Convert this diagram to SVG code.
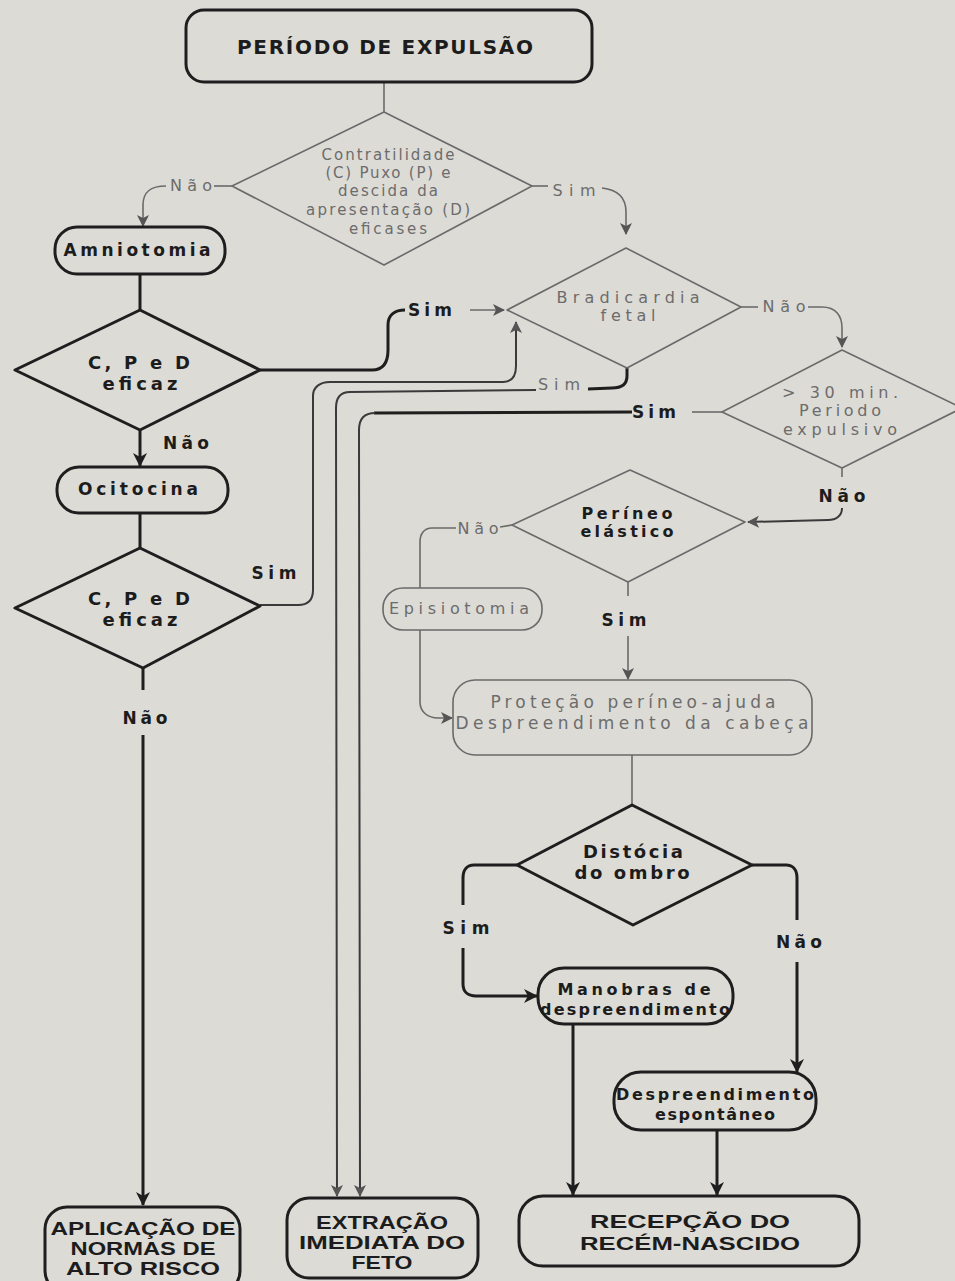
<svg xmlns="http://www.w3.org/2000/svg" width="955" height="1281" viewBox="0 0 955 1281">
<style>
.thick{fill:none;stroke:#1e1e1e;stroke-width:3;stroke-linejoin:round}
.thin{fill:none;stroke:#6a6a6a;stroke-width:1.6;stroke-linejoin:round}
.mid{fill:none;stroke:#3a3a3a;stroke-width:2}
.b{font-family:"DejaVu Sans","Liberation Sans",sans-serif;font-weight:bold;fill:#1c1c1c;text-anchor:middle}
.g{font-family:"DejaVu Sans","Liberation Sans",sans-serif;fill:#6c6c6c;text-anchor:middle}
.c{font-family:"Liberation Sans Narrow","Liberation Sans",sans-serif;font-weight:bold;fill:#1c1c1c;text-anchor:middle}
</style>
<defs>
<marker id="ah" markerUnits="userSpaceOnUse" markerWidth="16" markerHeight="16" refX="13" refY="7" orient="auto">
<path d="M0,0 L14,7 L0,14 L4,7 z" fill="#1e1e1e"/>
</marker>
<marker id="ahg" markerUnits="userSpaceOnUse" markerWidth="14" markerHeight="14" refX="11" refY="6" orient="auto">
<path d="M0,0 L12,6 L0,12 L3,6 z" fill="#555"/>
</marker>
</defs>
<rect x="0" y="0" width="955" height="1281" fill="#dcdbd6"/>

<g id="connectors">
<path class="thin" d="M384,82 L384,112"/>
<path class="thin" d="M232,186 L214,186"/>
<path class="thin" d="M166,186 C150,186 143,192 143,205 L143,226" marker-end="url(#ahg)"/>
<path class="thin" d="M532,186 L548,186"/>
<path class="thin" d="M602,188 C620,190 626,200 626,212 L626,234" marker-end="url(#ahg)"/>
<path class="thick" d="M140,274 L140,310"/>
<path class="thick" d="M260,370 L372,370 C384,370 388,362 388,350 L388,325 C388,315 395,310 405,310"/>
<path class="thin" d="M470,310 L504,310" marker-end="url(#ahg)"/>
<path class="thick" d="M140,430 L140,466" marker-end="url(#ah)"/>
<path class="thick" d="M140,513 L140,548"/>
<path class="mid" d="M260,605 L298,605 C308,605 313,600 313,590 L313,396 C313,387 320,382 330,382 L503,382 C512,382 516,376 516,366 L516,322" marker-end="url(#ahg)"/>
<path class="thick" d="M627,368 L627,376 C627,384 622,388 612,388 L588,389"/>
<path class="mid" d="M536,390 L350,392 C340,392 336,398 336,408 L337,1196" marker-end="url(#ahg)"/>
<path class="thin" d="M722,412 L692,412"/>
<path class="thick" d="M632,412 L374,413"/>
<path class="mid" d="M375,413 C364,413 359,419 359,430 L360,1196" marker-end="url(#ahg)"/>
<path class="thin" d="M741,307 L758,307"/>
<path class="thin" d="M808,307 L822,307 C836,307 842,316 842,328 L842,347" marker-end="url(#ahg)"/>
<path class="thin" d="M842,468 L842,477"/>
<path class="mid" d="M842,508 C842,516 836,520 828,520 L748,522" marker-end="url(#ahg)"/>
<path class="thin" d="M512,525 L500,527"/>
<path class="thin" d="M456,528 L432,528 C424,528 420,534 420,542 L420,588"/>
<path class="thin" d="M420,630 L420,702 C420,712 428,718 438,718 L452,718" marker-end="url(#ahg)"/>
<path class="thin" d="M628,582 L628,596"/>
<path class="thin" d="M628,636 L628,679" marker-end="url(#ahg)"/>
<path class="thin" d="M632,755 L632,805"/>
<path class="thick" d="M517,865 L474,865 C467,865 463,870 463,878 L463,905"/>
<path class="thick" d="M463,948 L463,984 C463,992 468,996 476,996 L537,996" marker-end="url(#ah)"/>
<path class="thick" d="M752,865 L786,865 C793,865 797,870 797,878 L797,920"/>
<path class="thick" d="M797,962 L797,1072" marker-end="url(#ah)"/>
<path class="thick" d="M573,1024 L573,1195" marker-end="url(#ah)"/>
<path class="thick" d="M717,1130 L717,1195" marker-end="url(#ah)"/>
<path class="thick" d="M143,668 L143,690"/>
<path class="thick" d="M143,735 L143,1205" marker-end="url(#ah)"/>
</g>

<g id="labels">
<text class="g" x="191" y="191" font-size="16" textLength="42">Não</text>
<text class="g" x="574" y="196" font-size="16" textLength="43">Sim</text>
<text class="b" x="430" y="316" font-size="17" textLength="44">Sim</text>
<text class="g" x="784" y="312" font-size="16" textLength="43">Não</text>
<text class="g" x="559" y="390" font-size="16" textLength="42">Sim</text>
<text class="b" x="654" y="418" font-size="17" textLength="44">Sim</text>
<text class="b" x="186" y="449" font-size="17" textLength="46">Não</text>
<text class="b" x="842" y="502" font-size="17" textLength="47">Não</text>
<text class="g" x="478" y="534" font-size="16" textLength="41">Não</text>
<text class="b" x="274" y="579" font-size="17" textLength="45">Sim</text>
<text class="b" x="624" y="626" font-size="17" textLength="45">Sim</text>
<text class="b" x="145" y="724" font-size="17" textLength="45">Não</text>
<text class="b" x="466" y="934" font-size="17" textLength="47">Sim</text>
<text class="b" x="799" y="948" font-size="17" textLength="46">Não</text>
</g>

<g id="n-top">
<rect class="thick" x="186" y="10" width="406" height="72" rx="18"/>
<text class="b" x="385" y="54" font-size="20" textLength="296">PERÍODO DE EXPULSÃO</text>
</g>
<g id="n-d1">
<polygon class="thin" points="384,112 532,186 384,265 232,186"/>
<text class="g" x="388" y="160" font-size="15" textLength="133">Contratilidade</text>
<text class="g" x="388" y="178" font-size="15" textLength="125">(C) Puxo (P) e</text>
<text class="g" x="388" y="196" font-size="15" textLength="100">descida da</text>
<text class="g" x="388" y="215" font-size="15" textLength="164">apresentação (D)</text>
<text class="g" x="388" y="234" font-size="15" textLength="78">eficases</text>
</g>
<g id="n-amnio">
<rect class="thick" x="55" y="227" width="170" height="47" rx="22"/>
<text class="b" x="137" y="256" font-size="17" textLength="147">Amniotomia</text>
</g>
<g id="n-d2">
<polygon class="thick" points="140,310 260,370 140,430 15,370"/>
<text class="b" x="139" y="369" font-size="18" textLength="102">C, P e D</text>
<text class="b" x="140" y="390" font-size="18" textLength="75">eficaz</text>
</g>
<g id="n-brad">
<polygon class="thin" points="626,248 741,307 627,368 507,310"/>
<text class="g" x="628" y="303" font-size="16" textLength="143">Bradicardia</text>
<text class="g" x="628" y="321" font-size="16" textLength="55">fetal</text>
</g>
<g id="n-30">
<polygon class="thin" points="842,350 962,408 842,468 722,412"/>
<text class="g" x="840" y="398" font-size="16" textLength="116">&gt; 30 min.</text>
<text class="g" x="840" y="416" font-size="16" textLength="82">Periodo</text>
<text class="g" x="840" y="435" font-size="16" textLength="114">expulsivo</text>
</g>
<g id="n-ocito">
<rect class="thick" x="57" y="467" width="171" height="46" rx="22"/>
<text class="b" x="138" y="495" font-size="17" textLength="120">Ocitocina</text>
</g>
<g id="n-per">
<polygon class="thin" points="630,470 745,522 628,582 512,525"/>
<text class="b" x="627" y="519" font-size="16" textLength="91">Períneo</text>
<text class="b" x="627" y="537" font-size="16" textLength="93">elástico</text>
</g>
<g id="n-d3">
<polygon class="thick" points="140,548 260,606 143,668 15,608"/>
<text class="b" x="139" y="605" font-size="18" textLength="102">C, P e D</text>
<text class="b" x="140" y="626" font-size="18" textLength="75">eficaz</text>
</g>
<g id="n-epi">
<rect class="thin" x="383" y="588" width="159" height="42" rx="20"/>
<text class="g" x="459" y="614" font-size="16" textLength="140">Episiotomia</text>
</g>
<g id="n-prot">
<rect class="thin" x="453" y="680" width="359" height="75" rx="22"/>
<text class="g" x="633" y="708" font-size="17" textLength="285">Proteção períneo-ajuda</text>
<text class="g" x="632" y="729" font-size="17" textLength="353">Despreendimento da cabeça</text>
</g>
<g id="n-dist">
<polygon class="thick" points="632,805 752,865 633,925 517,865"/>
<text class="b" x="633" y="858" font-size="18" textLength="100">Distócia</text>
<text class="b" x="632" y="879" font-size="18" textLength="115">do ombro</text>
</g>
<g id="n-mano">
<rect class="thick" x="538" y="968" width="195" height="56" rx="26"/>
<text class="b" x="634" y="995" font-size="16" textLength="153">Manobras de</text>
<text class="b" x="635" y="1015" font-size="16" textLength="190">despreendimento</text>
</g>
<g id="n-esp">
<rect class="thick" x="614" y="1072" width="202" height="58" rx="27"/>
<text class="b" x="715" y="1100" font-size="16" textLength="198">Despreendimento</text>
<text class="b" x="715" y="1120" font-size="16" textLength="120">espontâneo</text>
</g>
<g id="n-aplic">
<rect class="thick" x="45" y="1207" width="195" height="86" rx="22"/>
<text class="c" x="143" y="1235" font-size="17.5" textLength="185" lengthAdjust="spacingAndGlyphs">APLICAÇÃO DE</text>
<text class="c" x="143" y="1255" font-size="17.5" textLength="145" lengthAdjust="spacingAndGlyphs">NORMAS DE</text>
<text class="c" x="143" y="1275" font-size="17.5" textLength="154" lengthAdjust="spacingAndGlyphs">ALTO RISCO</text>
</g>
<g id="n-extr">
<rect class="thick" x="287" y="1198" width="191" height="80" rx="22"/>
<text class="c" x="382" y="1229" font-size="17.5" textLength="132" lengthAdjust="spacingAndGlyphs">EXTRAÇÃO</text>
<text class="c" x="382" y="1249" font-size="17.5" textLength="166" lengthAdjust="spacingAndGlyphs">IMEDIATA DO</text>
<text class="c" x="382" y="1269" font-size="17.5" textLength="61" lengthAdjust="spacingAndGlyphs">FETO</text>
</g>
<g id="n-recep">
<rect class="thick" x="519" y="1196" width="340" height="70" rx="24"/>
<text class="c" x="690" y="1228" font-size="18" textLength="200" lengthAdjust="spacingAndGlyphs">RECEPÇÃO DO</text>
<text class="c" x="690" y="1250" font-size="18" textLength="220" lengthAdjust="spacingAndGlyphs">RECÉM-NASCIDO</text>
</g>
</svg>
